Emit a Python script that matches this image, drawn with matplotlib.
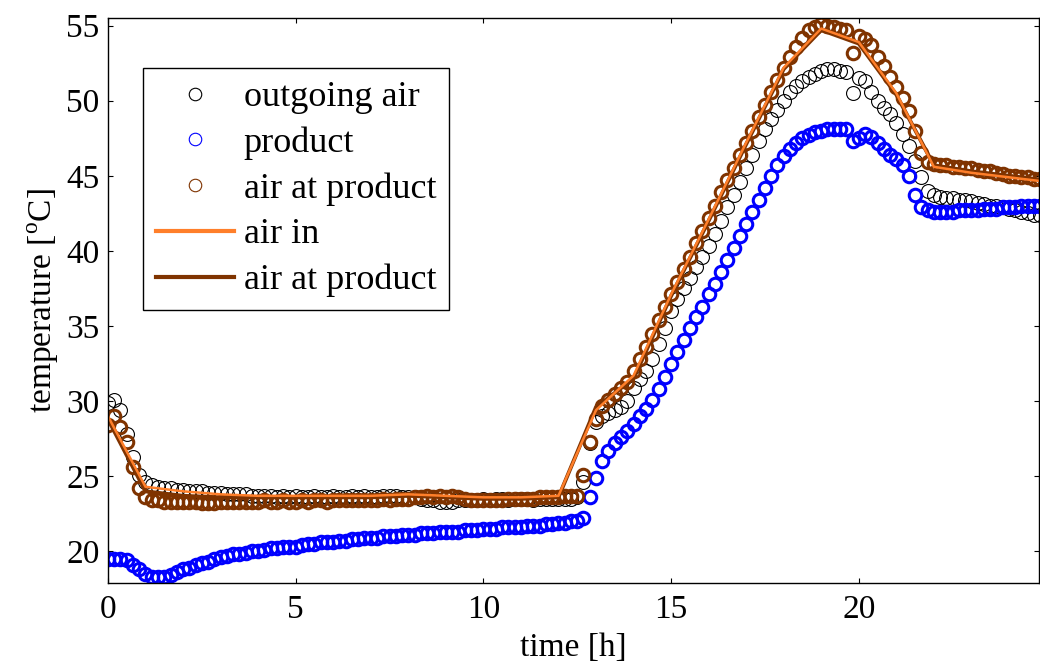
import numpy as np
import matplotlib.pyplot as plt
from matplotlib.lines import Line2D

plt.rcParams['font.family'] = ['Liberation Serif', 'DejaVu Serif']
plt.rcParams['mathtext.fontset'] = 'custom'
plt.rcParams['mathtext.rm'] = 'Liberation Serif'

# measurement samples every 10 min (one row per hour)
time_h = np.arange(150) / 6.0

outgoing_air = [
    29.9, 30.1, 29.4, 27.8, 26.3, 25.1,
    24.6, 24.4, 24.3, 24.2, 24.2, 24.1,
    24.1, 24.0, 24.0, 24.0, 23.9, 23.9,
    23.9, 23.8, 23.8, 23.8, 23.8, 23.7,
    23.7, 23.7, 23.7, 23.6, 23.7, 23.6,
    23.7, 23.6, 23.6, 23.7, 23.6, 23.6,
    23.7, 23.6, 23.6, 23.7, 23.6, 23.7,
    23.6, 23.6, 23.7, 23.7, 23.7, 23.6,
    23.6, 23.6, 23.5, 23.4, 23.4, 23.3,
    23.3, 23.3, 23.4, 23.4, 23.4, 23.4,
    23.5, 23.4, 23.5, 23.5, 23.4, 23.5,
    23.5, 23.5, 23.4, 23.5, 23.5, 23.5,
    23.5, 23.5, 23.5, 23.6, 24.6, 27.2,
    28.6, 29.0, 29.2, 29.4, 29.6, 30.0,
    30.9, 31.5, 32.0, 32.8, 33.8, 34.9,
    36.0, 36.8, 37.5, 38.2, 38.9, 39.6,
    40.3, 41.1, 42.0, 42.9, 43.7, 44.6,
    45.5, 46.4, 47.3, 48.1, 48.8, 49.4,
    50.0, 50.6, 51.0, 51.3, 51.6, 51.8,
    52.0, 52.1, 52.1, 52.0, 51.9, 50.5,
    51.5, 51.3, 50.6, 50.0, 49.5, 49.1,
    48.5, 47.8, 47.0, 46.0, 44.9, 44.0,
    43.7, 43.6, 43.5, 43.5, 43.4, 43.4,
    43.3, 43.2, 43.1, 43.0, 43.0, 42.9,
    42.8, 42.7, 42.6, 42.5, 42.4, 42.4]

product = [
    19.5, 19.5, 19.5, 19.4, 19.1, 18.8,
    18.5, 18.3, 18.3, 18.3, 18.4, 18.6,
    18.8, 18.9, 19.1, 19.2, 19.3, 19.5,
    19.6, 19.7, 19.8, 19.8, 19.9, 20.0,
    20.0, 20.1, 20.2, 20.2, 20.3, 20.3,
    20.3, 20.4, 20.5, 20.5, 20.6, 20.6,
    20.6, 20.7, 20.7, 20.8, 20.8, 20.9,
    20.9, 20.9, 21.0, 21.0, 21.0, 21.1,
    21.1, 21.1, 21.2, 21.2, 21.2, 21.3,
    21.3, 21.3, 21.3, 21.4, 21.4, 21.4,
    21.5, 21.5, 21.5, 21.6, 21.6, 21.6,
    21.6, 21.7, 21.7, 21.7, 21.8, 21.8,
    21.9, 21.9, 22.0, 22.0, 22.2, 23.6,
    24.9, 26.0, 26.7, 27.2, 27.6, 28.0,
    28.5, 29.0, 29.5, 30.1, 30.8, 31.6,
    32.5, 33.3, 34.1, 34.9, 35.6, 36.3,
    37.1, 37.8, 38.6, 39.4, 40.2, 41.0,
    41.8, 42.6, 43.4, 44.2, 45.0, 45.7,
    46.3, 46.8, 47.2, 47.5, 47.7, 47.9,
    48.0, 48.1, 48.1, 48.1, 48.1, 47.3,
    47.5, 47.8, 47.6, 47.2, 46.8, 46.4,
    46.1, 45.7, 45.0, 43.7, 42.9, 42.7,
    42.6, 42.6, 42.6, 42.6, 42.7, 42.7,
    42.7, 42.7, 42.8, 42.8, 42.8, 42.9,
    42.9, 42.9, 43.0, 43.0, 43.0, 43.0]

air_at_product = [
    28.4, 29.0, 28.3, 27.3, 25.6, 24.2,
    23.6, 23.4, 23.4, 23.3, 23.3, 23.3,
    23.3, 23.3, 23.3, 23.2, 23.2, 23.2,
    23.3, 23.3, 23.3, 23.3, 23.3, 23.3,
    23.3, 23.4, 23.3, 23.3, 23.4, 23.3,
    23.3, 23.4, 23.3, 23.4, 23.4, 23.3,
    23.4, 23.4, 23.4, 23.4, 23.4, 23.4,
    23.4, 23.4, 23.5, 23.4, 23.5, 23.5,
    23.5, 23.6, 23.6, 23.7, 23.6, 23.7,
    23.6, 23.7, 23.6, 23.5, 23.4, 23.4,
    23.4, 23.4, 23.4, 23.4, 23.5, 23.5,
    23.5, 23.5, 23.5, 23.6, 23.6, 23.6,
    23.6, 23.7, 23.7, 23.7, 25.1, 27.3,
    28.8, 29.7, 30.1, 30.5, 30.9, 31.3,
    32.0, 32.8, 33.6, 34.5, 35.4, 36.3,
    37.1, 37.9, 38.8, 39.6, 40.5, 41.3,
    42.2, 43.0, 43.9, 44.7, 45.5, 46.4,
    47.2, 48.0, 48.9, 49.7, 50.6, 51.4,
    52.2, 52.9, 53.6, 54.2, 54.7, 54.9,
    55.1, 55.0, 54.9, 54.8, 54.7, 53.2,
    54.3, 54.1, 53.7, 52.9, 52.3, 51.6,
    50.9, 50.2, 49.3, 48.0, 46.5, 45.9,
    45.8, 45.7, 45.7, 45.6, 45.6, 45.5,
    45.5, 45.4, 45.3, 45.3, 45.2, 45.1,
    45.0, 45.0, 44.9, 44.9, 44.8, 44.8]

# model output, hourly
model_time_h = [0, 1, 2, 3, 4, 5, 6, 7, 8, 9, 10, 11, 12,
                13, 14, 15, 16, 17, 18, 19, 20, 21, 22, 23, 24, 25]
model_air_in = [29.0, 24.3, 24.0, 23.8, 23.7, 23.7, 23.7, 23.7, 23.8, 23.7,
                23.6, 23.6, 23.7, 29.4, 31.7, 37.1, 42.1, 47.2, 52.2, 54.8,
                53.9, 50.5, 45.6, 45.2, 44.9, 44.6]
model_air_at_product = [28.8, 24.0, 23.7, 23.6, 23.6, 23.6, 23.6, 23.6, 23.7, 23.6,
                        23.5, 23.5, 23.6, 29.6, 31.5, 37.0, 42.0, 47.1, 52.1, 54.7,
                        53.8, 50.4, 45.7, 45.3, 45.0, 44.7]

brown = '#7F3300'
orange = '#FF7F2A'

fig = plt.figure(figsize=(10.4, 6.7), dpi=100)
ax = fig.add_axes([0.1038, 0.1299, 0.8952, 0.8432])

ax.plot(time_h, outgoing_air, 'o', mfc='none', mec='black', ms=10, mew=0.8)
ax.plot(time_h, product, 'o', mfc='none', mec='blue', ms=9, mew=2.2)
ax.plot(time_h, air_at_product, 'o', mfc='none', mec=brown, ms=9, mew=2.2)
ax.plot(model_time_h, model_air_at_product, '-', color=brown, lw=2.8)
ax.plot(model_time_h, model_air_in, '-', color=orange, lw=1.8)

ax.set_xlim(0, 24.8)
ax.set_ylim(17.9, 55.5)
ax.set_xticks([0, 5, 10, 15, 20])
ax.set_yticks([20, 25, 30, 35, 40, 45, 50, 55])
ax.tick_params(direction='in', length=3.5, width=0.8, top=True, right=True,
               labelsize=24)
ax.tick_params(axis='x', pad=8)
ax.tick_params(axis='y', pad=6)
for s in ax.spines.values():
    s.set_linewidth(1.0)

ax.set_xlabel('time [h]', fontsize=24, labelpad=6)
ax.set_ylabel('temperature [$^\\mathrm{o}$C]', fontsize=24, labelpad=4)

handles = [
    Line2D([], [], ls='none', marker='o', mfc='none', mec='black', ms=9, mew=0.8),
    Line2D([], [], ls='none', marker='o', mfc='none', mec='blue', ms=9, mew=0.8),
    Line2D([], [], ls='none', marker='o', mfc='none', mec=brown, ms=9, mew=0.8),
    Line2D([], [], color=orange, lw=3),
    Line2D([], [], color=brown, lw=3),
]
labels = ['outgoing air', 'product', 'air at product', 'air in', 'air at product']
leg = ax.legend(handles, labels, loc='upper left', bbox_to_anchor=(0.0376, 0.9115),
                borderaxespad=0, fontsize=26, frameon=True, fancybox=False,
                framealpha=1, edgecolor='black', handlelength=2.15,
                handletextpad=0.28, labelspacing=0.34, borderpad=0.36, numpoints=1)
leg.get_frame().set_linewidth(1.0)

fig.savefig('out.png', dpi=100)
